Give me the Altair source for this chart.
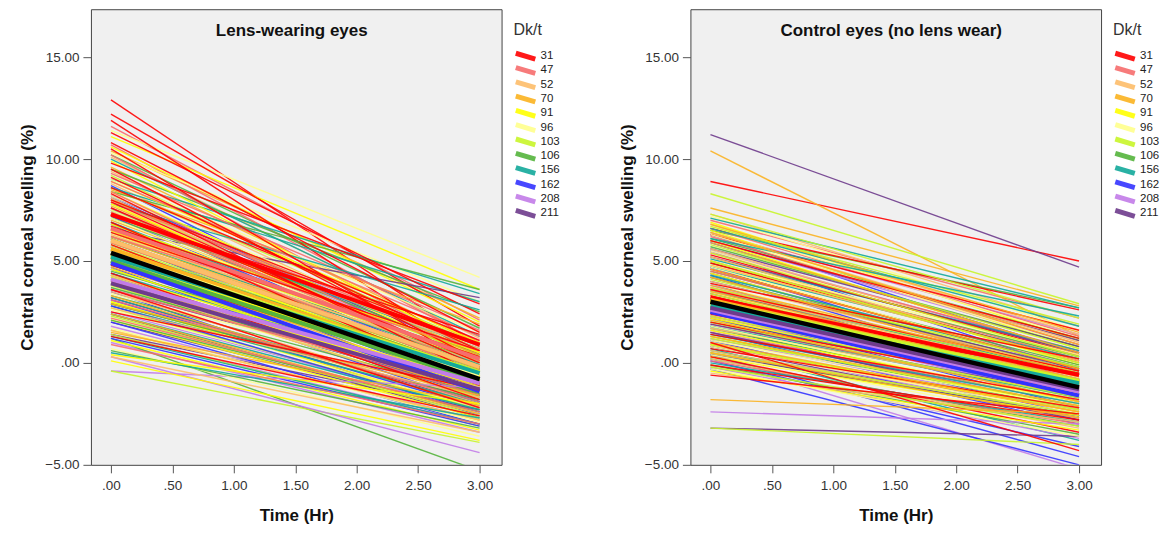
import altair as alt
import pandas as pd

DKT = ["31", "47", "52", "70", "91", "96", "103", "106", "156", "162", "208", "211"]
COLORS = ["#ff0000", "#f76d6d", "#fdbd6a", "#fbb321", "#ffff00", "#ffff8c",
          "#c8f52a", "#55b43c", "#13a99b", "#3333ff", "#c27ce8", "#6e3b8c"]
TIMES = [0.0, 3.0]

# ---- Lens-wearing eyes: value at 0 h (start) and 3 h (end) per eye ----
lens_start_31 = [12.9, 12.2, 11.9, 11.3, 10.8, 10.5, 9.8, 9.5, 9.1, 8.6, 8.3, 8.0, 7.9, 7.6, 7.2, 6.9, 6.7, 6.4, 5.8, 5.1, 4.8, 4.4, 3.6, 2.5, 1.3]
lens_end_31 = [0.8, 1.8, 0.2, 2.4, 1.5, -0.3, 2.9, 0.1, 0.6, 1.1, -0.6, 0.9, -0.2, 0.0, 1.4, -0.9, 0.6, 0.3, -1.1, -0.4, -0.8, -1.8, -2.2, -1.3, -2.6]
lens_start_47 = [11.6, 10.7, 10.2, 9.3, 8.9, 8.4, 7.9, 7.6, 7.3, 6.7, 6.2, 5.9, 5.5, 4.8, 4.0, 3.6, 3.1, 2.2, 0.9]
lens_end_47 = [2.1, 1.0, 0.4, 1.6, 1.3, -0.2, 0.8, -0.3, 0.1, -0.5, 0.6, -0.2, -1.0, -0.7, -1.6, -1.3, -1.9, -2.4, -3.0]
lens_start_52 = [10.1, 9.4, 8.8, 8.1, 7.8, 7.4, 6.6, 6.3, 6.0, 5.6, 5.2, 4.9, 4.3, 3.9, 3.5, 2.7, 1.6, 0.3]
lens_end_52 = [1.2, 0.5, 0.3, -0.4, -0.3, 0.7, -0.8, 0.0, 0.2, -1.2, -0.9, -0.5, -1.4, -1.8, -2.0, -1.7, -2.8, -3.4]
lens_start_70 = [10.4, 9.6, 8.5, 8.0, 7.7, 7.0, 6.5, 6.2, 5.9, 5.3, 5.0, 4.7, 4.1, 3.3, 2.9, 2.4, 1.5]
lens_end_70 = [2.2, 0.9, 1.9, 0.5, -0.1, 0.4, -0.6, -0.2, -0.3, -1.0, -1.2, -0.8, -1.5, -2.1, -1.6, -2.5, -2.0]
lens_start_91 = [11.1, 10.6, 9.9, 8.9, 8.4, 7.8, 6.8, 6.5, 6.1, 5.4, 4.6, 4.3, 3.9, 3.0, 2.1, 1.6, 1.1, 0.1, 0.4]
lens_end_91 = [3.6, 2.0, 0.6, 1.0, 0.2, -0.3, 0.5, 0.1, -0.7, -0.4, -1.3, -0.9, -1.1, -2.3, -2.7, -2.8, -3.3, -3.8, -2.0]
lens_start_96 = [11.4, 10.3, 9.0, 8.2, 7.5, 7.1, 6.3, 6.0, 5.7, 4.9, 4.2, 3.8, 3.4, 2.6, 2.2, 1.7, 0.7]
lens_end_96 = [4.2, 3.0, 1.5, 0.8, -0.2, 0.0, 0.2, -0.4, -0.6, -0.9, -1.4, -1.7, -1.2, -2.2, -2.5, -2.9, -3.6]
lens_start_103 = [9.2, 8.6, 8.0, 7.2, 6.8, 6.4, 5.8, 5.5, 5.2, 4.6, 4.2, 3.8, 3.0, 2.7, 2.3, 1.4, -0.4]
lens_end_103 = [0.5, 0.9, -0.2, 0.3, 0.0, -0.5, -0.4, -0.7, -0.9, -1.1, -1.4, -1.7, -2.1, -2.3, -2.6, -3.1, -3.9]
lens_start_106 = [10.2, 9.5, 8.4, 7.5, 7.1, 6.7, 6.0, 5.7, 5.3, 4.5, 4.1, 3.7, 3.3, 2.9, 2.1, 1.2, 0.6]
lens_end_106 = [1.7, 2.5, 3.6, 0.4, 0.9, -0.2, 0.1, -0.4, -0.7, -0.6, -1.0, -1.3, -1.5, -1.8, -2.4, -5.3, -3.2]
lens_start_156 = [10.0, 9.0, 8.6, 7.8, 7.3, 6.9, 6.2, 5.9, 5.5, 4.8, 4.4, 4.0, 3.2, 2.8, 2.4, 1.3, 0.5]
lens_end_156 = [1.3, 3.4, 3.0, 2.6, 0.7, -0.1, 0.0, -0.3, -0.5, -0.8, -1.1, -1.6, -1.9, -2.0, -2.3, -3.0, -2.7]
lens_start_162 = [8.7, 8.2, 7.6, 7.2, 6.8, 6.1, 5.7, 5.4, 4.7, 4.4, 4.1, 3.5, 3.1, 2.8, 2.0, 1.2]
lens_end_162 = [-0.3, 0.4, -0.8, -0.5, -1.0, -1.4, -1.6, -1.2, -1.9, -1.7, -2.0, -2.6, -2.2, -2.4, -3.0, -3.1]
lens_start_208 = [8.0, 7.5, 6.9, 6.1, 5.7, 5.3, 4.6, 4.2, 3.9, 3.2, 2.8, 2.5, 1.8, 1.4, 1.0, -0.4, 0.3]
lens_end_208 = [-0.1, -0.3, -0.4, -1.0, -0.7, -0.9, -1.5, -1.7, -1.3, -2.0, -2.5, -2.2, -2.8, -3.0, -3.4, -1.2, -4.4]
lens_start_211 = [8.1, 7.4, 6.5, 6.1, 5.7, 5.0, 4.6, 4.3, 3.6, 3.2, 2.9, 2.4, 2.0, 1.4]
lens_end_211 = [0.2, -0.2, 3.2, -0.5, -0.9, -0.8, -1.2, -1.6, -1.4, -2.0, -1.8, -2.7, -2.5, -2.3]

# group fit lines (thick) and overall fit (black)
lens_mean_start = [7.3, 6.6, 6.0, 5.6, 5.2, 5.4, 5.3, 5.0, 5.2, 4.9, 4.1, 3.9]
lens_mean_end = [0.9, 0.2, -0.2, -0.5, -0.7, -0.6, -0.45, -0.9, -0.5, -1.4, -1.0, -1.3]
lens_overall = [5.4, -0.8]

# ---- Control eyes (no lens wear) ----
ctrl_start_31 = [8.9, 6.6, 6.3, 6.0, 5.3, 4.9, 4.6, 3.9, 3.6, 3.3, 2.7, 2.4, 2.0, 1.4, 0.7, 0.3, -0.1, -0.6, 1.0]
ctrl_end_31 = [5.0, 2.6, 1.6, 1.2, 0.4, 0.1, -0.3, 0.2, -0.4, -1.0, -0.5, -1.2, -1.4, -1.8, -2.2, -3.4, -2.8, -2.5, -4.3]
ctrl_start_47 = [7.0, 6.6, 6.2, 5.4, 5.0, 4.5, 3.7, 3.4, 3.0, 2.3, 1.9, 1.5, 0.8, 0.5, 0.1]
ctrl_end_47 = [2.2, 1.3, 0.9, 0.6, 0.2, -0.2, -0.6, -0.8, -1.1, -1.3, -1.7, -2.0, -2.4, -2.7, -3.0]
ctrl_start_52 = [7.3, 6.8, 6.4, 5.6, 5.2, 4.8, 4.0, 3.6, 3.2, 2.5, 2.1, 1.7, 0.9, 0.6, 0.2, -0.5]
ctrl_end_52 = [1.8, 1.4, 1.0, 0.3, 0.0, 0.1, -0.4, -0.7, -1.0, -1.5, -1.9, -1.6, -2.3, -2.6, -3.2, -2.9]
ctrl_start_70 = [10.4, 7.6, 6.8, 6.4, 5.9, 5.0, 4.6, 4.2, 3.8, 3.5, 2.8, 2.5, 2.1, 1.3, 1.0, 0.5, -1.8]
ctrl_end_70 = [1.3, 2.8, 1.5, 0.9, 0.5, 0.0, -0.3, -0.6, -0.5, -0.8, -1.2, -1.6, -1.9, -2.1, -2.4, -2.7, -2.5]
ctrl_start_91 = [6.9, 6.5, 6.0, 5.2, 4.8, 4.4, 3.6, 3.3, 2.9, 2.6, 2.2, 1.6, 1.3, 0.9, 0.3, -0.4]
ctrl_end_91 = [1.1, 0.7, 0.4, -0.1, 0.1, -0.5, -0.7, -0.9, -1.3, -1.7, -1.5, -1.9, -2.2, -2.4, -2.6, -3.3]
ctrl_start_96 = [7.2, 6.7, 6.3, 5.5, 5.0, 4.7, 3.9, 3.5, 3.1, 2.4, 2.1, 1.8, 1.1, 0.8, 0.4, -0.3]
ctrl_end_96 = [1.6, 1.2, 0.8, 0.2, 0.4, -0.3, -0.9, -1.1, -0.8, -1.6, -1.8, -2.0, -2.2, -2.5, -2.9, -3.6]
ctrl_start_103 = [8.3, 7.3, 6.7, 5.8, 5.4, 5.0, 4.1, 3.7, 3.4, 2.6, 2.3, 2.0, 1.2, 0.9, 0.5, -0.2, -3.2]
ctrl_end_103 = [2.9, 2.2, 1.9, 0.7, 0.3, 0.0, -0.2, -0.6, -0.9, -1.1, -1.4, -1.7, -2.1, -2.3, -2.5, -3.1, -4.0]
ctrl_start_106 = [6.5, 6.1, 5.7, 4.9, 4.5, 4.2, 3.4, 3.1, 2.7, 2.0, 1.7, 1.3, 0.6, 0.2, -0.1]
ctrl_end_106 = [2.7, 1.2, 0.8, 0.3, -0.1, -0.4, -0.9, -1.0, -1.2, -1.8, -2.0, -2.3, -2.6, -3.1, -3.5]
ctrl_start_156 = [7.1, 6.6, 6.1, 5.1, 4.7, 4.3, 3.5, 3.1, 2.8, 2.1, 1.8, 1.4, 0.7, 0.4, 0.0]
ctrl_end_156 = [2.7, 1.8, 2.3, 0.6, 0.2, -0.2, -0.5, -0.8, -1.1, -1.4, -1.7, -2.0, -3.8, -2.6, -2.9]
ctrl_start_162 = [6.3, 5.9, 5.5, 4.7, 4.3, 3.9, 3.2, 2.9, 2.5, 1.8, 1.5, 1.1, 0.4, 0.1, -0.3]
ctrl_end_162 = [0.3, 0.5, -0.4, -0.9, -1.2, -1.5, -1.7, -1.9, -2.2, -2.6, -2.8, -3.0, -4.6, -4.1, -5.0]
ctrl_start_208 = [6.4, 6.0, 5.5, 4.6, 4.2, 3.8, 3.0, 2.7, 2.3, 1.6, 1.2, 0.9, 0.2, -0.2, -2.4]
ctrl_end_208 = [1.4, 0.9, 0.5, -0.3, -0.6, -0.8, -1.4, -1.5, -1.7, -2.2, -2.4, -2.7, -5.2, -3.7, -3.0]
ctrl_start_211 = [11.2, 6.0, 5.6, 5.2, 4.4, 4.0, 3.6, 2.9, 2.6, 2.2, 1.9, 1.5, 0.8, 0.4, -3.2]
ctrl_end_211 = [4.7, 1.1, 0.8, 0.5, -0.6, -0.3, -1.0, -1.4, -1.1, -1.9, -1.6, -2.2, -2.8, -2.6, -3.6]

ctrl_mean_start = [3.2, 3.0, 2.9, 3.1, 2.8, 2.9, 3.0, 2.7, 2.8, 2.5, 2.6, 2.7]
ctrl_mean_end = [-0.6, -0.9, -1.0, -0.9, -1.0, -1.0, -0.9, -1.1, -1.0, -1.6, -1.4, -1.3]
ctrl_overall = [3.0, -1.2]

G = globals()


def eyes_frame(prefix):
    starts = [G[f"{prefix}_start_{g}"] for g in DKT]
    ends = [G[f"{prefix}_end_{g}"] for g in DKT]
    rows = []
    n = max(len(s) for s in starts)
    k = 0
    for i in range(n):
        for gi, g in enumerate(DKT):
            if i < len(starts[gi]):
                for t, v in zip(TIMES, [starts[gi][i], ends[gi][i]]):
                    rows.append({"id": k, "dkt": g, "time": t, "value": v})
                k += 1
    return pd.DataFrame(rows)


def mean_frame(ms, me):
    rows = []
    for g, s, e in zip(DKT, ms, me):
        for t, v in zip(TIMES, [s, e]):
            rows.append({"dkt": g, "time": t, "value": v})
    return pd.DataFrame(rows)


def overall_frame(vals):
    return pd.DataFrame({"time": TIMES, "value": vals})


X_LABEL = "datum.value == 0 ? '.00' : datum.value == 0.5 ? '.50' : format(datum.value, '.2f')"
Y_LABEL = "datum.value == 0 ? '.00' : format(datum.value, '.2f')"
W, H = 411, 456


def panel(df, mdf, odf, title):
    x = alt.X("time:Q", scale=alt.Scale(domain=[-0.163, 3.179], nice=False, zero=False),
              axis=alt.Axis(values=[0, 0.5, 1, 1.5, 2, 2.5, 3], labelExpr=X_LABEL, title="Time (Hr)"))
    y = alt.Y("value:Q", scale=alt.Scale(domain=[-5, 17.35], nice=False, zero=False),
              axis=alt.Axis(values=[-5, 0, 5, 10, 15], labelExpr=Y_LABEL,
                            title="Central corneal swelling (%)"))
    color = alt.Color("dkt:N", scale=alt.Scale(domain=DKT, range=COLORS),
                      legend=alt.Legend(title="Dk/t", orient="none", legendX=W + 12, legendY=13))
    lines = alt.Chart(df).mark_line(strokeWidth=1.4, clip=True, opacity=0.9).encode(
        x=x, y=y, color=color, detail="id:N")
    means = alt.Chart(mdf).mark_line(strokeWidth=4, clip=True).encode(
        x=x, y=y, color=color, detail="dkt:N")
    overall = alt.Chart(odf).mark_line(strokeWidth=4.5, color="black", clip=True).encode(x=x, y=y)
    ttl = alt.Chart(pd.DataFrame({"t": [title]})).mark_text(
        font="Liberation Sans", fontSize=17, fontWeight="bold", color="#111",
        baseline="middle", align="center").encode(
        text="t:N", x=alt.value(201), y=alt.value(22))
    return alt.layer(lines, means, overall, ttl).properties(width=W, height=H)


left = panel(eyes_frame("lens"), mean_frame(lens_mean_start, lens_mean_end),
             overall_frame(lens_overall), "Lens-wearing eyes")
right = panel(eyes_frame("ctrl"), mean_frame(ctrl_mean_start, ctrl_mean_end),
              overall_frame(ctrl_overall), "Control eyes (no lens wear)")

chart = alt.hconcat(left, right, spacing=56).resolve_scale(color="independent").properties(
    padding={"left": 10, "top": 0, "right": 0, "bottom": 0}
).configure_view(
    fill="#f0f0f0", stroke="#444444", strokeWidth=1
).configure_axis(
    labelFont="Liberation Sans", titleFont="Liberation Sans", labelFontSize=13.5,
    titleFontSize=17, titleFontWeight="bold", labelColor="#333333", titleColor="#111111",
    tickColor="#555555", tickSize=8, domain=False, grid=False, labelPadding=4
).configure_axisY(
    titlePadding=8
).configure_axisX(
    titlePadding=15, labelPadding=6
).configure_legend(
    padding=0, titleFont="Liberation Sans", titleFontSize=16,
    titleFontWeight="normal", titleColor="#333333", labelFont="Liberation Sans",
    labelFontSize=11.5, labelColor="#222222", symbolType="M-1.5,-0.45L1.5,0.45",
    symbolStrokeWidth=5, symbolSize=169, symbolOffset=3, clipHeight=14, rowPadding=0.3,
    labelOffset=6, titlePadding=11
)

chart.save("out.html", embed_options={"renderer": "svg", "actions": False})
